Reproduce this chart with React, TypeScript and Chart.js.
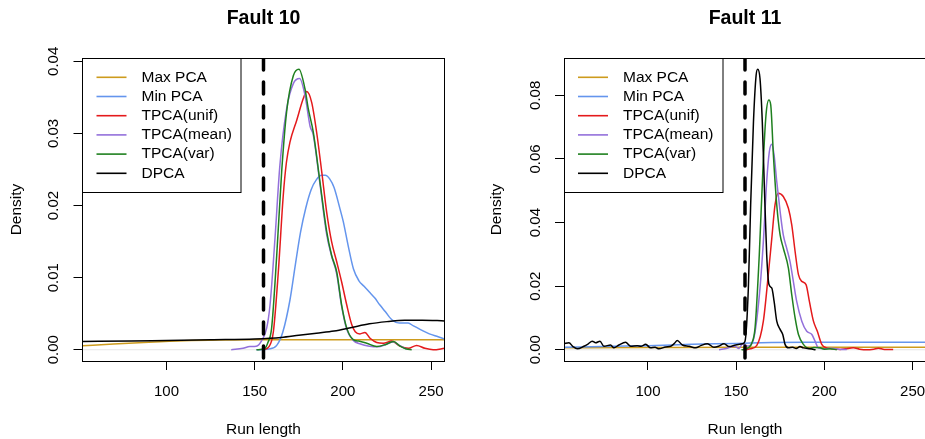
import React, { useEffect, useRef } from 'react';
import { Chart, registerables } from 'chart.js';

Chart.register(...registerables);

const FONT = '"Liberation Sans", Arial, Helvetica, sans-serif';
Chart.defaults.font.family = FONT;
Chart.defaults.color = '#000';

// ---------- shared axis data ----------
const X_MIN = 52.4;
const X_MAX = 257.6;
const X_TICKS = [100, 150, 200, 250];
const FAULT_START = 155;
const SERIES_NAMES = ['Max PCA', 'Min PCA', 'TPCA(unif)', 'TPCA(mean)', 'TPCA(var)', 'DPCA'];
const SERIES_COLORS = ['#CD9B1D', '#6495ED', '#E41A1C', '#9370DB', '#1F801F', '#000000'];

// ---------- Fault 10 ----------
const F10_Y_RANGE = [-0.00156, 0.04046];
const F10_Y_TICKS = [0, 0.01, 0.02, 0.03, 0.04];

const F10_MAX_PCA = [[52.4, 0.00055], [70, 0.0008], [90, 0.00105], [110, 0.00125], [130, 0.00135], [155, 0.0014], [200, 0.0014], [257.6, 0.0014]];
const F10_MIN_PCA = [[151, 0], [158, 0.0001], [162.5, 0.0006], [166, 0.0025], [170, 0.0069], [173, 0.0117], [176, 0.0163], [179, 0.0197], [182, 0.0222], [185, 0.0236], [188, 0.0242], [190, 0.0242], [192.5, 0.0237], [195, 0.0225], [198.4, 0.0195], [200.2, 0.0178], [203.1, 0.0143], [206, 0.0112], [209, 0.0096], [212, 0.0088], [215, 0.008], [218, 0.0072], [221, 0.0062], [224, 0.0053], [228, 0.0041], [232, 0.0037], [237, 0.0037], [240, 0.0033], [244, 0.0028], [249, 0.0022], [254, 0.0018], [257.6, 0.0015]];
const F10_TPCA_UNIF = [[155, 0], [158, 0.0004], [160.6, 0.0025], [163.4, 0.0108], [166.2, 0.0214], [168, 0.026], [170, 0.0288], [173.8, 0.0318], [177.5, 0.0348], [179.5, 0.0358], [182.3, 0.0343], [185.1, 0.0302], [188, 0.0247], [190.8, 0.0191], [193.6, 0.015], [196.5, 0.0122], [199.3, 0.0094], [202.2, 0.0062], [205, 0.0035], [207, 0.0025], [209.7, 0.0022], [212.5, 0.0024], [215.4, 0.0016], [219.2, 0.001], [222.9, 0.0009], [227.7, 0.0012], [232.4, 0.0005], [237.1, 0.0002], [241.8, 0.0006], [246.5, 0.0002], [251.2, 0], [257.6, 0.0002]];
const F10_TPCA_MEAN = [[136.7, 0], [143.4, 0.0002], [147.2, 0.00046], [150.9, 0.0005], [153.8, 0.0012], [156.8, 0.003], [158.7, 0.0062], [161.5, 0.0154], [164.3, 0.0256], [168.1, 0.0334], [171.9, 0.0369], [175.5, 0.0376], [178.5, 0.0353], [181.4, 0.031], [183.2, 0.0298], [187, 0.023], [190.8, 0.016], [193.6, 0.013], [196.5, 0.0105], [199.3, 0.006], [202.2, 0.0028], [205.9, 0.0013], [210, 0.0008], [215, 0.0005], [220, 0.0004], [224, 0.0007], [228.6, 0.0011], [232, 0.0006], [236, 0.0001]];
const F10_TPCA_VAR = [[151, 0], [155.8, 0.0002], [157.5, 0.001], [159.6, 0.003], [162.5, 0.0131], [165.3, 0.0247], [168.1, 0.033], [171.9, 0.038], [175.1, 0.0389], [178.5, 0.0362], [180.4, 0.0334], [183.2, 0.0302], [187, 0.0233], [190.8, 0.0164], [193.6, 0.0131], [196.5, 0.0108], [199.3, 0.0062], [202.2, 0.003], [205.9, 0.0014], [209, 0.0012], [213.5, 0.0009], [219.2, 0.00046], [223.9, 0.0007], [228.6, 0.00115], [232.4, 0.0005], [236, 0.0001], [239, 0]];
const F10_DPCA = [[52.4, 0.00115], [80, 0.0012], [100, 0.0013], [125, 0.0014], [150, 0.0015], [165, 0.0017], [175, 0.002], [185, 0.0023], [195, 0.0026], [205, 0.0031], [215, 0.0036], [225, 0.0039], [235, 0.0041], [245, 0.0041], [257.6, 0.004]];

// ---------- Fault 11 ----------
const F11_Y_RANGE = [-0.00353, 0.09173];
const F11_Y_TICKS = [0, 0.02, 0.04, 0.06, 0.08];

const F11_MAX_PCA = [[52.4, 0.0006], [100, 0.0007], [155, 0.0008], [200, 0.0008], [257.6, 0.0008]];
const F11_MIN_PCA = [[52.4, 0.0008], [80, 0.0011], [100, 0.0013], [125, 0.0017], [150, 0.002], [170, 0.0023], [190, 0.0024], [257.6, 0.0024]];
const F11_TPCA_UNIF = [[155.5, 0], [158, 0.0003], [161.7, 0.0014], [165.4, 0.009], [168.2, 0.0236], [170.2, 0.0351], [172, 0.0455], [173.9, 0.0492], [176.7, 0.0482], [179.6, 0.0445], [181.5, 0.0393], [183.4, 0.0309], [185.3, 0.0236], [187.2, 0.0215], [189.6, 0.0205], [191.5, 0.0152], [193.8, 0.009], [196, 0.0058], [198.5, 0.0017], [201.3, 0.0006], [205, 0.0003], [208.9, 0.0001], [212, 0.0003], [216.4, 0.0006], [220, 0.0002], [224, 0], [228, 0.0002], [230.6, 0.0005], [234, 0.0001], [239, 0.0001]];
const F11_TPCA_MEAN = [[140.3, 0], [145, 0.0005], [149, 0.0011], [151.6, 0.0004], [153.5, 0.0018], [156, 0.0012], [158, 0.0014], [160.5, 0.005], [163.5, 0.0194], [165.4, 0.034], [167.3, 0.0529], [168.8, 0.0623], [170.2, 0.0646], [171.5, 0.0612], [173, 0.0529], [174.9, 0.0435], [176.7, 0.0361], [178.6, 0.032], [180.5, 0.0278], [182.4, 0.0215], [184.3, 0.0152], [187.2, 0.009], [190, 0.0058], [192.9, 0.0048], [194.7, 0.0027], [196.6, 0.0006], [200, 0.0003], [204, 0.0005], [208, 0.0002], [212.7, 0.0001]];
const F11_TPCA_VAR = [[153, 0], [156.9, 0.0006], [158.8, 0.002], [160.7, 0.0069], [163.1, 0.0299], [165.1, 0.056], [166.9, 0.0738], [168.5, 0.0785], [169.6, 0.0769], [171.1, 0.0612], [173, 0.0455], [174.9, 0.0361], [176.7, 0.032], [179.6, 0.0257], [181.5, 0.0173], [183.4, 0.01], [185.3, 0.0048], [188.1, 0.0017], [191.9, 0.0004], [194, 0.0007], [197.6, 0.0006], [200, 0.0002], [203.2, 0.0003], [207, 0]];
const F11_DPCA = [[52.4, 0.0019], [55.2, 0.0022], [57.5, 0.001], [59.9, 0.0003], [63.7, 0.0011], [66, 0.0018], [68.4, 0.0027], [70.3, 0.0022], [72.8, 0.0027], [75, 0.0011], [78.8, 0.0015], [80.7, 0.0006], [83.5, 0.0015], [87.3, 0.0024], [90.2, 0.0011], [93.9, 0.0013], [96, 0.0011], [98.7, 0.0017], [101.5, 0.0006], [104, 0.0008], [106.2, 0.0003], [110, 0.0009], [112.9, 0.0011], [115, 0.002], [116.6, 0.0029], [119.5, 0.0015], [123.3, 0.0011], [127.1, 0.0006], [129.9, 0.0013], [133.7, 0.0019], [137.4, 0.0008], [140, 0.0011], [143.1, 0.0019], [145.9, 0.001], [149.7, 0.0015], [153.5, 0.0019], [155, 0.0027], [156.9, 0.0194], [158.2, 0.0455], [159.8, 0.0717], [161.3, 0.0863], [162.2, 0.0882], [163.5, 0.0853], [164.8, 0.0717], [166, 0.0508], [167.3, 0.0299], [168.6, 0.0205], [170.2, 0.0194], [171.5, 0.0152], [173, 0.009], [174.9, 0.0064], [176.4, 0.0048], [177.7, 0.0017], [179.6, 0.0006], [182, 0.0008], [184, 0.0004], [186.2, 0.001], [188, 0.0006], [191.9, 0.0003], [195, 0]];

const F10_SERIES = [F10_MAX_PCA, F10_MIN_PCA, F10_TPCA_UNIF, F10_TPCA_MEAN, F10_TPCA_VAR, F10_DPCA];
const F11_SERIES = [F11_MAX_PCA, F11_MIN_PCA, F11_TPCA_UNIF, F11_TPCA_MEAN, F11_TPCA_VAR, F11_DPCA];

// ---------- R-style decorations plugin ----------
const rDecor = {
  id: 'rDecor',
  afterDraw(chart: any, _args: any, opts: any) {
    const { ctx, chartArea: a, scales } = chart;
    ctx.save();
    // plot box
    ctx.strokeStyle = '#000';
    ctx.lineWidth = 1;
    const L = Math.floor(a.left) + 0.5;
    const T = Math.floor(a.top) + 0.5;
    const R = Math.floor(a.right) + 0.5;
    const B = Math.floor(a.bottom) + 0.5;
    ctx.strokeRect(L, T, R - L, B - T);
    // title
    ctx.fillStyle = '#000';
    ctx.font = `bold 19.5px ${FONT}`;
    ctx.textAlign = 'center';
    ctx.textBaseline = 'middle';
    ctx.fillText(opts.title, (a.left + a.right) / 2, 19);
    // rotated y tick labels
    ctx.font = `15px ${FONT}`;
    for (const v of opts.yTicks) {
      const y = scales.y.getPixelForValue(v);
      ctx.save();
      ctx.translate(a.left - 28.5, y);
      ctx.rotate(-Math.PI / 2);
      ctx.fillText(v.toFixed(2), 0, 0);
      ctx.restore();
    }
    // legend
    const boxW = 158.5;
    const boxH = 134;
    ctx.fillStyle = '#fff';
    ctx.fillRect(L, T, boxW, boxH);
    ctx.strokeStyle = '#000';
    ctx.lineWidth = 1;
    ctx.strokeRect(L, T, boxW, boxH);
    ctx.font = `15.5px ${FONT}`;
    ctx.textAlign = 'left';
    SERIES_NAMES.forEach((name, i) => {
      const y = a.top + 19.3 + i * 19.2;
      ctx.strokeStyle = SERIES_COLORS[i];
      ctx.lineWidth = 1.6;
      ctx.beginPath();
      ctx.moveTo(a.left + 14, y);
      ctx.lineTo(a.left + 44, y);
      ctx.stroke();
      ctx.fillStyle = '#000';
      ctx.fillText(name, a.left + 59, y);
    });
    ctx.restore();
  },
};

type Panel = {
  title: string;
  yRange: number[];
  yTicks: number[];
  series: number[][][];
  yAxisWidth: number;
  rightPad: number;
  yTitlePad: number;
};

function makeConfig(p: Panel): any {
  const curves = p.series.map((pts, i) => ({
    label: SERIES_NAMES[i],
    data: pts.map(([x, y]) => ({ x, y })),
    borderColor: SERIES_COLORS[i],
    borderWidth: 1.5,
    pointRadius: 0,
    fill: false,
    tension: 0.4,
    cubicInterpolationMode: 'monotone',
    clip: 0,
    order: 10 - i,
  }));
  const zeroLine = {
    label: 'zero',
    data: [{ x: X_MIN, y: 0 }, { x: X_MAX, y: 0 }],
    borderColor: '#e6e6e6',
    borderWidth: 1,
    pointRadius: 0,
    tension: 0,
    clip: 0,
    order: 100,
  };
  const faultLine = {
    label: 'fault',
    data: [{ x: FAULT_START, y: p.yRange[1] }, { x: FAULT_START, y: p.yRange[0] }],
    borderColor: '#000',
    borderWidth: 3.5,
    borderDash: [12, 12],
    borderCapStyle: 'round',
    pointRadius: 0,
    tension: 0,
    clip: 0,
    order: 0,
  };
  return {
    type: 'line',
    data: { datasets: [zeroLine, ...curves, faultLine] },
    plugins: [rDecor],
    options: {
      responsive: false,
      animation: false,
      events: [],
      layout: { padding: { top: 58, left: 0, right: p.rightPad, bottom: 0 } },
      plugins: {
        legend: { display: false },
        tooltip: { enabled: false },
        title: { display: false },
        rDecor: { title: p.title, yTicks: p.yTicks },
      },
      scales: {
        x: {
          type: 'linear',
          position: 'bottom',
          min: X_MIN,
          max: X_MAX,
          afterBuildTicks: (s: any) => {
            s.ticks = X_TICKS.map((v) => ({ value: v }));
          },
          afterFit: (s: any) => {
            s.height = 78;
            s.paddingLeft = 0;
            s.paddingRight = 0;
          },
          ticks: {
            autoSkip: false,
            maxRotation: 0,
            minRotation: 0,
            padding: 12.7,
            color: '#000',
            font: { size: 15 },
            callback: (v: any) => String(v),
          },
          grid: { drawOnChartArea: false, drawTicks: true, tickLength: 9, color: '#000', lineWidth: 1 },
          border: { display: false },
          title: { display: true, text: 'Run length', color: '#000', font: { size: 15.5 }, padding: { top: 0, bottom: 0.2 } },
        },
        y: {
          type: 'linear',
          position: 'left',
          min: p.yRange[0],
          max: p.yRange[1],
          afterBuildTicks: (s: any) => {
            s.ticks = p.yTicks.map((v) => ({ value: v }));
          },
          afterFit: (s: any) => {
            s.width = p.yAxisWidth;
            s.paddingTop = 0;
            s.paddingBottom = 0;
          },
          ticks: { display: false },
          grid: { drawOnChartArea: false, drawTicks: true, tickLength: 9, color: '#000', lineWidth: 1 },
          border: { display: false },
          title: { display: true, text: 'Density', color: '#000', font: { size: 15.5 }, padding: { top: p.yTitlePad, bottom: 0 } },
        },
      },
    },
  };
}

const PANEL_10: Panel = {
  title: 'Fault 10',
  yRange: F10_Y_RANGE,
  yTicks: F10_Y_TICKS,
  series: F10_SERIES,
  yAxisWidth: 82.5,
  rightPad: 17.5,
  yTitlePad: 7.4,
};

const PANEL_11: Panel = {
  title: 'Fault 11',
  yRange: F11_Y_RANGE,
  yTicks: F11_Y_TICKS,
  series: F11_SERIES,
  yAxisWidth: 102,
  rightPad: 0,
  yTitlePad: 25.4,
};

export default function App() {
  const leftRef = useRef<HTMLCanvasElement>(null);
  const rightRef = useRef<HTMLCanvasElement>(null);

  useEffect(() => {
    const c1 = new Chart(leftRef.current as HTMLCanvasElement, makeConfig(PANEL_10));
    const c2 = new Chart(rightRef.current as HTMLCanvasElement, makeConfig(PANEL_11));
    return () => {
      c1.destroy();
      c2.destroy();
    };
  }, []);

  return (
    <div style={{ position: 'absolute', left: 0, top: 0, width: 925, height: 439, overflow: 'hidden', background: '#fff' }}>
      <canvas ref={leftRef} width={462} height={439} style={{ position: 'absolute', left: 0, top: 0, width: 462, height: 439 }} />
      <canvas ref={rightRef} width={464} height={439} style={{ position: 'absolute', left: 462, top: 0, width: 464, height: 439 }} />
    </div>
  );
}
